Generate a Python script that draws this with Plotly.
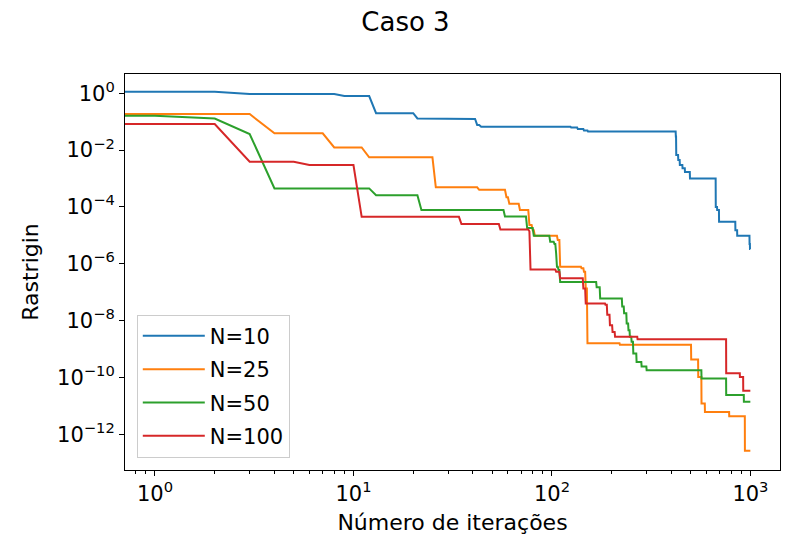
import numpy as np
import plotly.graph_objects as go

n_iter = 1000
series_names = ["N=10", "N=25", "N=50", "N=100"]
colors = ["#1f77b4", "#ff7f0e", "#2ca02c", "#d62728"]

# iteration where a new best value starts, and the best value from there on
n10_start = [0, 3, 9, 13, 21, 30, 42, 44, 125, 135, 145, 152, 421, 423, 433, 441,
             455, 468, 496, 669, 680, 695, 840, 858, 990, 995]
n10_best = [1.14, 0.95, 0.80, 0.20, 0.13, 0.125, 0.077, 0.067, 0.062, 0.055, 0.049,
            0.045, 0.03, 6.7e-3, 4.5e-3, 3e-3, 2.3e-3, 1.7e-3, 1.0e-3, 1.0e-4, 7.8e-5,
            3e-5, 1.5e-5, 9.7e-6, 5e-6, 3.3e-6]

n25_start = [0, 4, 8, 12, 26, 43, 59, 61, 69, 77, 80, 82, 107, 110, 141, 145, 148,
             151, 220, 503, 546, 567, 590, 782, 938]
n25_best = [0.186, 0.039, 0.0125, 5.6e-3, 4.9e-4, 4e-4, 2.2e-4, 1.3e-4, 7.8e-5, 2.3e-5,
            1.5e-5, 9.7e-6, 6.8e-6, 7.8e-7, 6.9e-7, 5.2e-7, 1.35e-7, 1.6e-9, 1.4e-9,
            4.3e-10, 1.04e-10, 1.2e-11, 6.1e-12, 4.3e-12, 2.6e-13]

n50_start = [0, 2, 3, 4, 13, 22, 58, 75, 81, 98, 103, 105, 106, 108, 110, 168, 175,
             226, 231, 238, 243, 247, 252, 257, 267, 283, 300, 567, 755, 927]
n50_best = [0.162, 0.13, 0.037, 4.5e-4, 2.6e-4, 7.8e-5, 4.6e-5, 1.8e-5, 9.7e-6, 6e-6,
            5e-6, 2.3e-6, 7.8e-7, 6e-7, 2.3e-7, 1.5e-7, 6e-8, 3.1e-8, 1.8e-8, 7.9e-9,
            4.6e-9, 2.7e-9, 1.8e-9, 7e-10, 3.5e-10, 2.4e-10, 1.8e-10, 9.2e-11, 2.4e-11,
            1.4e-11]

n100_start = [0, 3, 6, 11, 35, 55, 77, 78, 105, 110, 144, 148, 186, 190, 196, 202,
              208, 270, 755, 885, 920]
n100_best = [0.083, 3.9e-3, 3e-3, 4.5e-5, 2.5e-5, 1.6e-5, 1.4e-5, 6.3e-7, 5.2e-7,
             3.1e-7, 1.35e-7, 4e-8, 3.6e-8, 1.6e-8, 6.9e-9, 4e-9, 2.7e-9, 2.2e-9,
             1.4e-10, 1.04e-10, 3.4e-11]

x_major = [1, 10, 100, 1000]
y_major_exp = [0, -2, -4, -6, -8, -10, -12]


def expand(starts, best):
    # best-so-far value at every iteration
    it = np.arange(n_iter)
    idx = np.searchsorted(starts, it, side="right") - 1
    return np.array(best)[idx]


iters = np.arange(n_iter).astype(float)
iters[0] = 1e-3  # 0 can't sit on a log axis, push it off to the left like matplotlib

fig = go.Figure()
all_series = [(n10_start, n10_best), (n25_start, n25_best),
              (n50_start, n50_best), (n100_start, n100_best)]
for k, (st, bv) in enumerate(all_series):
    fig.add_trace(go.Scatter(
        x=iters, y=expand(st, bv), mode="lines", name=series_names[k],
        line=dict(color=colors[k], width=2), legendgroup=str(k)
    ))

minor_x = [m * 10 ** d for d in range(-1, 3) for m in range(2, 10)
           if 0.7 < m * 10 ** d < 1400]

# the page body adds an 8px offset, so the figure is 8px smaller on each side
fig.update_layout(
    width=795, height=550,
    margin=dict(l=117, r=23, t=66, b=88),
    paper_bgcolor="white", plot_bgcolor="white",
    font=dict(family="DejaVu Sans", size=21, color="black"),
    title=dict(text="Caso 3", x=0.5, xanchor="center", y=1 - 14 / 550,
               yanchor="middle", yref="container", font=dict(size=26),
               automargin=False),
    legend=dict(x=0.018, y=0.031, xanchor="left", yanchor="bottom",
                bgcolor="white", bordercolor="#cccccc", borderwidth=1,
                font=dict(size=21), tracegroupgap=3, itemwidth=62),
    showlegend=True,
)
fig.update_xaxes(
    type="log", range=[-0.151, 3.149], automargin=False,
    title=dict(text="Número de iterações", standoff=9, font=dict(size=22)),
    tickvals=x_major, ticktext=[f"10<sup>{int(np.log10(v))}</sup>" for v in x_major],
    ticks="outside", ticklen=5, tickwidth=1, tickcolor="black",
    minor=dict(tickvals=minor_x, ticks="outside", ticklen=3, tickwidth=0.8,
               tickcolor="black"),
    showline=True, linecolor="black", linewidth=1, mirror=True,
    showgrid=False, zeroline=False,
)
fig.update_yaxes(
    type="log", range=[-13.26, 0.68], automargin=False,
    title=dict(text="Rastrigin", standoff=12, font=dict(size=22)),
    tickvals=[10.0 ** e for e in y_major_exp],
    ticktext=[f"10<sup>{str(e).replace('-', '−')}</sup>" for e in y_major_exp],
    ticks="outside", ticklen=5, tickwidth=1, tickcolor="black",
    showline=True, linecolor="black", linewidth=1, mirror=True,
    showgrid=False, zeroline=False,
)

fig.write_html("out.html")
